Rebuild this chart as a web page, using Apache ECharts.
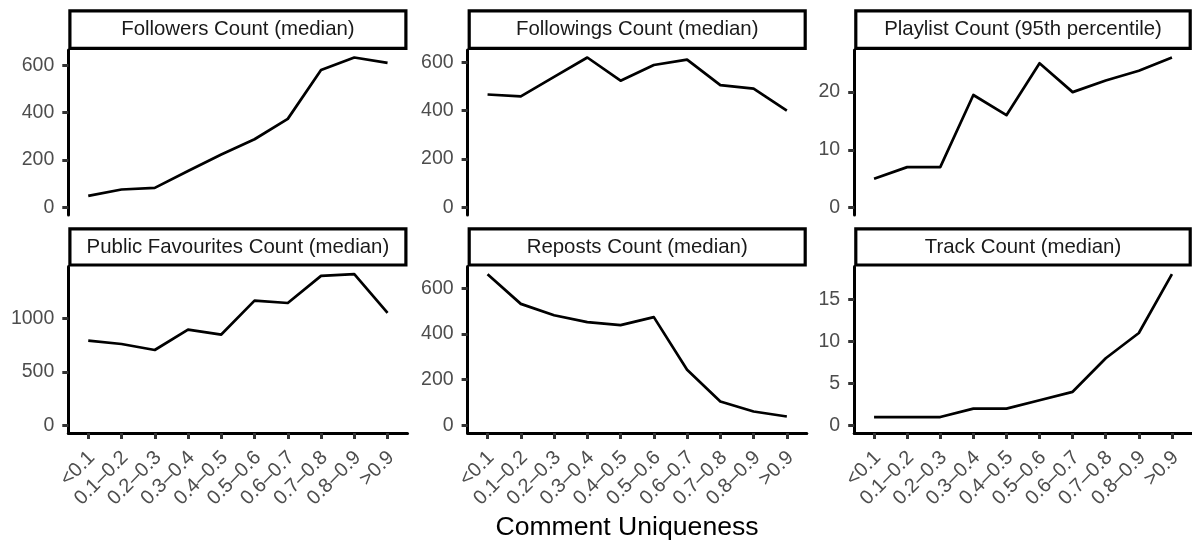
<!DOCTYPE html>
<html>
<head>
<meta charset="utf-8">
<script src="https://cdn.jsdelivr.net/npm/echarts@6/dist/echarts.min.js"></script>
<style>
  html, body { margin: 0; padding: 0; background: #ffffff; }
  #chart { width: 1192px; height: 543px; }
</style>
</head>
<body>
<div id="chart"></div>
<script>
// ---- data ----
const categories = ['<0.1', '0.1–0.2', '0.2–0.3', '0.3–0.4', '0.4–0.5', '0.5–0.6', '0.6–0.7', '0.7–0.8', '0.8–0.9', '>0.9'];
const panelTitles = ['Followers Count (median)', 'Followings Count (median)', 'Playlist Count (95th percentile)',
                     'Public Favourites Count (median)', 'Reposts Count (median)', 'Track Count (median)'];
const followers  = [49, 76, 83, 154, 224, 288, 374, 580, 633, 610];
const followings = [467, 459, 540, 620, 524, 589, 611, 506, 491, 400];
const playlists  = [5, 7, 7, 19.5, 16, 25, 20, 22, 23.7, 26];
const favourites = [790, 759, 703, 893, 847, 1163, 1141, 1394, 1410, 1050];
const reposts    = [662, 532, 482, 452, 439, 474, 244, 105, 61, 39];
const tracks     = [1, 1, 1, 2, 2, 3, 4, 8, 11, 18];
const yTicksFollowers  = [0, 200, 400, 600];
const yTicksFollowings = [0, 200, 400, 600];
const yTicksPlaylists  = [0, 10, 20];
const yTicksFavourites = [0, 500, 1000];
const yTicksReposts    = [0, 200, 400, 600];
const yTicksTracks     = [0, 5, 10, 15];
const xAxisTitle = 'Comment Uniqueness';

// ---- layout ----
const seriesData = [followers, followings, playlists, favourites, reposts, tracks];
const yTicks = [yTicksFollowers, yTicksFollowings, yTicksPlaylists, yTicksFavourites, yTicksReposts, yTicksTracks];
const colLeft = [68.3, 467.6, 854.2];
const colWidth = [339.2, 339.2, 337.6];
const rowTop = [50, 266.6];
const rowHeight = [165, 166.4];
const stripTop = [9.3, 227.3];
const FONT = '"Liberation Sans", Arial, Helvetica, sans-serif';

const grids = [], xAxes = [], yAxes = [], series = [], graphics = [];
const xIdx = categories.map((c, i) => i + 1);

for (let p = 0; p < 6; p++) {
  const r = Math.floor(p / 3), c = p % 3;
  const bottomRow = r === 1;
  grids.push({ left: colLeft[c], top: rowTop[r], width: colWidth[c], height: rowHeight[r], containLabel: false });
  xAxes.push({
    type: 'value', gridIndex: p, min: 0.4, max: 10.6,
    splitLine: { show: false },
    axisLine: { show: bottomRow, onZero: false, lineStyle: { color: '#000', width: 3 } },
    axisTick: { show: bottomRow, customValues: xIdx, length: 6, lineStyle: { color: '#333', width: 3 } },
    axisLabel: {
      show: bottomRow, customValues: xIdx, rotate: 45, margin: 11, verticalAlign: 'top',
      padding: [0, 5, 0, 0],
      color: '#4d4d4d', fontSize: 20, fontFamily: FONT,
      formatter: v => categories[Math.round(v) - 1] || ''
    }
  });
  const vals = seriesData[p];
  const hi = Math.max(...vals), lo = Math.min(0, ...vals);
  const span = hi - lo;
  yAxes.push({
    type: 'value', gridIndex: p,
    min: lo - 0.05 * span, max: hi + 0.05 * span,
    splitLine: { show: false },
    axisLine: { show: true, onZero: false, lineStyle: { color: '#000', width: 3 } },
    axisTick: { show: true, customValues: yTicks[p], length: 6, lineStyle: { color: '#333', width: 3 } },
    axisLabel: { customValues: yTicks[p], margin: 14, color: '#4d4d4d', fontSize: 19.5, fontFamily: FONT,
                 formatter: v => String(v) }
  });
  series.push({
    type: 'line', xAxisIndex: p, yAxisIndex: p,
    data: vals.map((v, i) => [xIdx[i], v]),
    symbol: 'none', silent: true,
    lineStyle: { color: '#000', width: 2.7, cap: 'butt', join: 'round' }
  });
  // strip box
  const bw = 3.2;
  graphics.push({
    type: 'rect', z: 10,
    shape: { x: colLeft[c] + bw / 2, y: stripTop[r] + bw / 2, width: colWidth[c] - bw, height: rowTop[r] - stripTop[r] - bw },
    style: { fill: '#fff', stroke: '#000', lineWidth: bw }
  });
  graphics.push({
    type: 'text', z: 11,
    x: colLeft[c] + colWidth[c] / 2, y: (stripTop[r] + rowTop[r]) / 2,
    style: { text: panelTitles[p], fill: '#1a1a1a', font: '20.4px ' + FONT, textAlign: 'center', textVerticalAlign: 'middle' }
  });
}
graphics.push({
  type: 'text', z: 11,
  x: 627, y: 528,
  style: { text: xAxisTitle, fill: '#000', font: '26.6px ' + FONT, textAlign: 'center', textVerticalAlign: 'middle' }
});

const chart = echarts.init(document.getElementById('chart'), null, { renderer: 'canvas' });
chart.setOption({
  animation: false,
  backgroundColor: '#ffffff',
  grid: grids, xAxis: xAxes, yAxis: yAxes, series: series,
  graphic: graphics
});
</script>
</body>
</html>
